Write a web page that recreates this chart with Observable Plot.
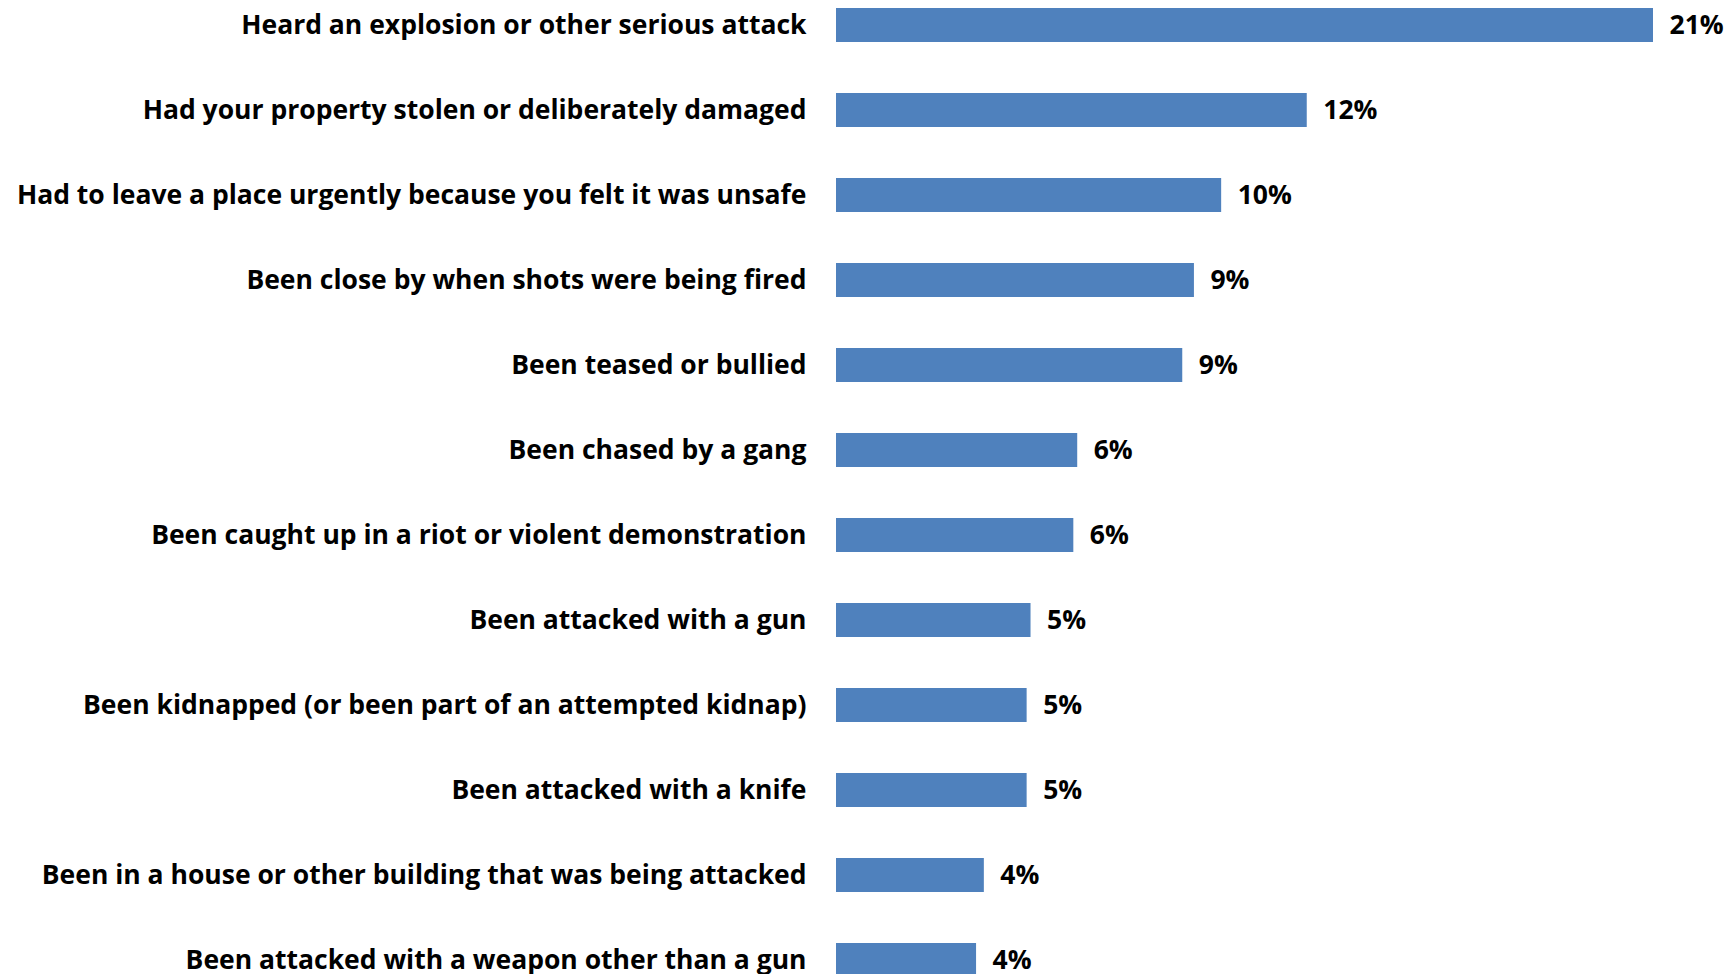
<!DOCTYPE html>
<html>
<head>
<meta charset="utf-8">
<script src="https://cdn.jsdelivr.net/npm/d3@7"></script>
<script src="https://cdn.jsdelivr.net/npm/@observablehq/plot@0.6"></script>
<style>
  html, body { margin: 0; padding: 0; background: #fff; overflow: hidden; }
</style>
</head>
<body>
<div id="chart"></div>
<script>
const categories = [
  "Heard an explosion or other serious attack",
  "Had your property stolen or deliberately damaged",
  "Had to leave a place urgently because you felt it was unsafe",
  "Been close by when shots were being fired",
  "Been teased or bullied",
  "Been chased by a gang",
  "Been caught up in a riot or violent demonstration",
  "Been attacked with a gun",
  "Been kidnapped (or been part of an attempted kidnap)",
  "Been attacked with a knife",
  "Been in a house or other building that was being attacked",
  "Been attacked with a weapon other than a gun"
];
const values = [21.0, 12.1, 9.9, 9.2, 8.9, 6.2, 6.1, 5.0, 4.9, 4.9, 3.8, 3.6];
const valueLabels = ["21%", "12%", "10%", "9%", "9%", "6%", "6%", "5%", "5%", "5%", "4%", "4%"];

const data = categories.map((c, i) => ({category: c, value: values[i], label: valueLabels[i]}));

const font = "'Open Sans', sans-serif";

const chart = Plot.plot({
  width: 1735,
  height: 974,
  marginLeft: 836,
  marginRight: 82,
  marginTop: 0,
  marginBottom: 0,
  style: {fontFamily: font, background: "#fff", overflow: "hidden"},
  x: {domain: [0, 21], axis: null},
  y: {domain: categories, range: [0, 984], paddingInner: 0.6, paddingOuter: 0.088, label: null},
  marks: [
    Plot.barX(data, {x: "value", y: "category", fill: "#4F81BD"}),
    Plot.text(data, {x: "value", y: "category", text: "label", textAnchor: "start", dx: 16, fontSize: 26.5, fontWeight: "bold", fill: "#000"}),
    Plot.axisY({tickSize: 0, tickPadding: 30, fontSize: 26.5, fontWeight: "bold", fill: "#000", label: null})
  ]
});
document.getElementById("chart").appendChild(chart);
</script>
</body>
</html>
